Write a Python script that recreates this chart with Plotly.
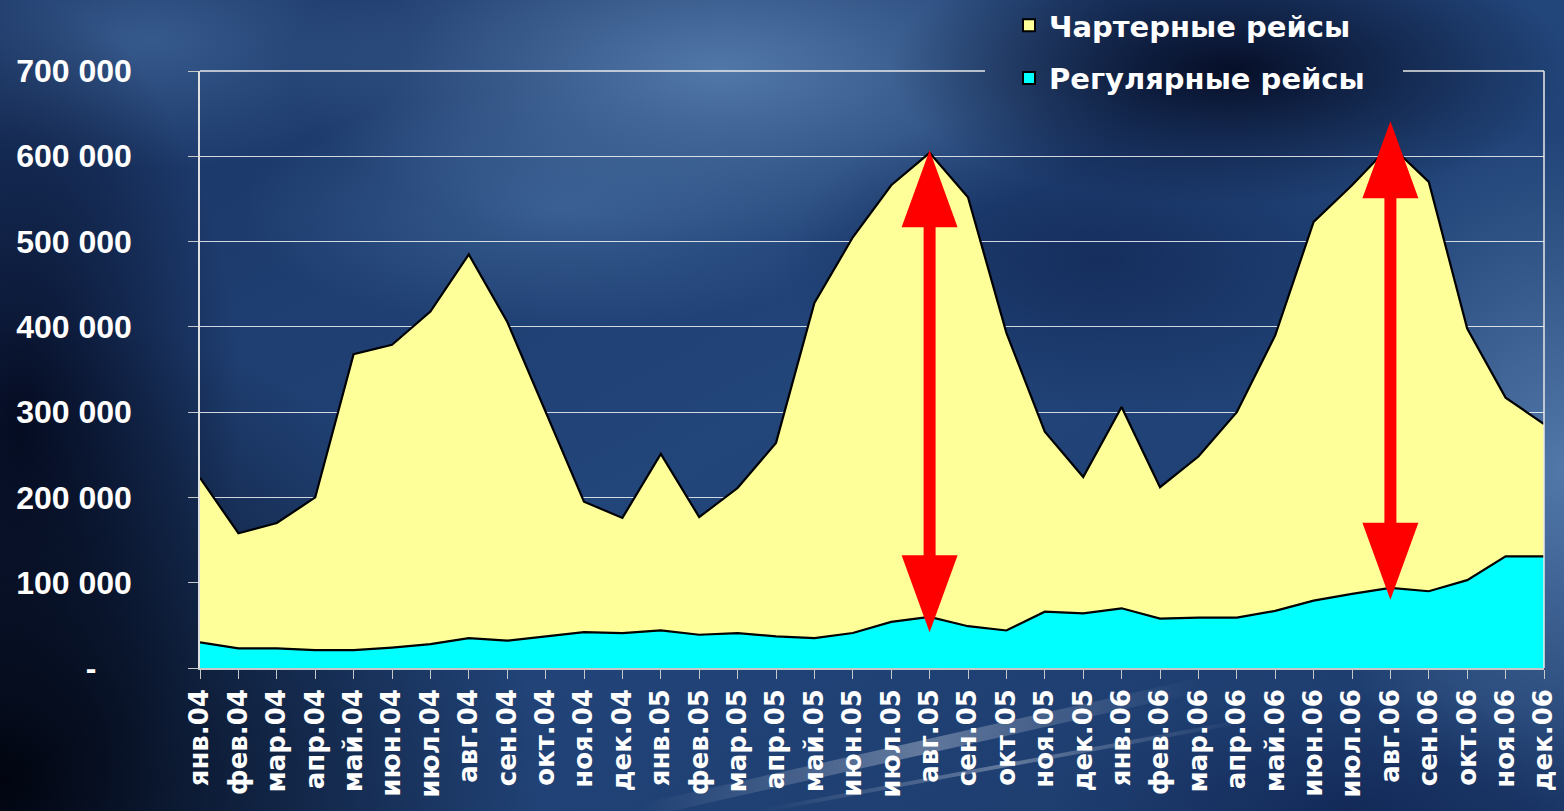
import base64
import plotly.graph_objects as go

# ---------------- data ----------------
months = ["янв.04", "фев.04", "мар.04", "апр.04", "май.04", "июн.04", "июл.04", "авг.04",
          "сен.04", "окт.04", "ноя.04", "дек.04", "янв.05", "фев.05", "мар.05", "апр.05",
          "май.05", "июн.05", "июл.05", "авг.05", "сен.05", "окт.05", "ноя.05", "дек.05",
          "янв.06", "фев.06", "мар.06", "апр.06", "май.06", "июн.06", "июл.06", "авг.06",
          "сен.06", "окт.06", "ноя.06", "дек.06"]

regular = [30000, 23000, 23000, 21000, 21000, 24000, 28000, 35000, 32000, 37000, 42000, 41000,
           44000, 39000, 41000, 37000, 35000, 41000, 54000, 60000, 49000, 44000, 66000, 64000,
           70000, 58000, 59000, 59000, 67000, 79000, 87000, 94000, 90000, 103000, 131000, 131000]

charter = [193000, 135000, 147000, 179000, 347000, 355000, 390000, 450000, 374000, 263000, 153000, 135000,
           207000, 138000, 170000, 227000, 393000, 464000, 512000, 544000, 503000, 349000, 211000, 160000,
           236000, 154000, 189000, 241000, 323000, 444000, 479000, 519000, 480000, 295000, 186000, 155000]

series_names = ["Чартерные рейсы", "Регулярные рейсы"]

y_tickvals = [0, 100000, 200000, 300000, 400000, 500000, 600000, 700000]
y_ticktext = ["-\u00a0\u00a0\u00a0\u00a0", "100 000", "200 000", "300 000", "400 000",
              "500 000", "600 000", "700 000"]

arrow_months = ["авг.05", "авг.06"]
arrow_tops = [607000, 641000]
arrow_bottoms = [42000, 80000]

# ---------------- styling ----------------
W, H = 1564, 811
ML, MR, MT, MB = 200, 20, 71, 143
PW, PH = W - ML - MR, H - MT - MB
YMAX = 700000

CHARTER_COLOR = "#FFFF99"
REGULAR_COLOR = "#00FFFF"
ARROW_COLOR = "#FF0000"


def bg_svg(viewbox):
    return f'''<svg xmlns="http://www.w3.org/2000/svg" width="1564" height="811" viewBox="{viewbox}" preserveAspectRatio="none">
<defs>
<linearGradient id="base" x1="0" y1="0" x2="1" y2="1">
<stop offset="0" stop-color="#1a3464"/><stop offset="0.5" stop-color="#22457a"/><stop offset="1" stop-color="#1d3b6c"/>
</linearGradient>
<radialGradient id="dk"><stop offset="0" stop-color="#01040f" stop-opacity="1"/><stop offset="1" stop-color="#01040f" stop-opacity="0"/></radialGradient>
<radialGradient id="dk2"><stop offset="0" stop-color="#050c24" stop-opacity="0.95"/><stop offset="1" stop-color="#050c24" stop-opacity="0"/></radialGradient>
<radialGradient id="dk3"><stop offset="0" stop-color="#0c1e4a" stop-opacity="0.6"/><stop offset="1" stop-color="#0c1e4a" stop-opacity="0"/></radialGradient>
<radialGradient id="lt"><stop offset="0" stop-color="#5a82b2" stop-opacity="0.85"/><stop offset="1" stop-color="#5a82b2" stop-opacity="0"/></radialGradient>
<radialGradient id="lt2"><stop offset="0" stop-color="#456da0" stop-opacity="0.65"/><stop offset="1" stop-color="#456da0" stop-opacity="0"/></radialGradient>
<linearGradient id="streak" x1="0" y1="0" x2="1" y2="0">
<stop offset="0" stop-color="#ffffff" stop-opacity="0"/><stop offset="0.5" stop-color="#ffffff" stop-opacity="0.3"/><stop offset="1" stop-color="#ffffff" stop-opacity="0"/>
</linearGradient>
</defs>
<rect x="0" y="0" width="1564" height="811" fill="url(#base)"/>
<ellipse cx="150" cy="40" rx="260" ry="130" fill="url(#lt2)"/>
<ellipse cx="720" cy="70" rx="430" ry="180" fill="url(#lt)"/>
<ellipse cx="560" cy="210" rx="320" ry="120" fill="url(#lt2)"/>
<ellipse cx="1230" cy="70" rx="340" ry="135" fill="url(#dk2)"/>
<ellipse cx="1100" cy="260" rx="320" ry="160" fill="url(#dk3)"/>
<ellipse cx="1564" cy="470" rx="270" ry="340" fill="url(#lt)"/>
<ellipse cx="20" cy="420" rx="220" ry="420" fill="url(#dk2)"/>
<ellipse cx="0" cy="780" rx="540" ry="470" fill="url(#dk)"/>
<ellipse cx="1350" cy="811" rx="300" ry="120" fill="url(#dk3)"/>
<line x1="640" y1="811" x2="1200" y2="685" stroke="url(#streak)" stroke-width="14"/>
<line x1="760" y1="811" x2="1250" y2="720" stroke="url(#streak)" stroke-width="4"/>
</svg>'''


def data_uri(svg):
    return "data:image/svg+xml;base64," + base64.b64encode(svg.encode("utf-8")).decode("ascii")


def px_to_paper_x(px):
    return (px - ML) / PW


def px_to_paper_y(py):
    return (H - MB - py) / PH


fig = go.Figure()

# stacked areas (regular at bottom, charter on top)
fig.add_trace(go.Scatter(x=months, y=regular, name=series_names[1], stackgroup="one",
                         mode="lines", line=dict(color="black", width=2.2),
                         fillcolor=REGULAR_COLOR, showlegend=False, hoverinfo="skip"))
fig.add_trace(go.Scatter(x=months, y=charter, name=series_names[0], stackgroup="one",
                         mode="lines", line=dict(color="black", width=2.2),
                         fillcolor=CHARTER_COLOR, showlegend=False, hoverinfo="skip"))

# legend entries with square swatches
for name, col in zip(series_names, [CHARTER_COLOR, REGULAR_COLOR]):
    fig.add_trace(go.Scatter(x=[None], y=[None], mode="markers", name=name, legendgroup=name,
                             marker=dict(symbol="square", size=14, color=col,
                                         line=dict(color="black", width=2))))

# double-headed red arrows
unit_per_px = YMAX / PH
inset = 40 * unit_per_px
shapes = []
for m, top, bot in zip(arrow_months, arrow_tops, arrow_bottoms):
    xi = months.index(m)
    shapes.append(dict(type="line", xref="x", yref="y", x0=xi, x1=xi, y0=bot + inset, y1=top - inset,
                       line=dict(color=ARROW_COLOR, width=12), layer="above"))
    shapes.append(dict(type="path", xref="x", yref="y", xsizemode="pixel", ysizemode="pixel",
                       xanchor=xi, yanchor=top, path="M 0,0 L -28,-77 L 28,-77 Z",
                       fillcolor=ARROW_COLOR, line=dict(width=0), layer="above"))
    shapes.append(dict(type="path", xref="x", yref="y", xsizemode="pixel", ysizemode="pixel",
                       xanchor=xi, yanchor=bot, path="M 0,0 L -28,77 L 28,77 Z",
                       fillcolor=ARROW_COLOR, line=dict(width=0), layer="above"))

# top border of the plot area, interrupted behind the legend; right border
border = dict(color="#e8e8e8", width=1.5)
shapes.append(dict(type="line", xref="paper", yref="paper", x0=0, x1=px_to_paper_x(985),
                   y0=1, y1=1, line=border))
shapes.append(dict(type="line", xref="paper", yref="paper", x0=px_to_paper_x(1403), x1=1,
                   y0=1, y1=1, line=border))
shapes.append(dict(type="line", xref="paper", yref="paper", x0=1, x1=1, y0=0, y1=1, line=border))

images = [
    dict(source=data_uri(bg_svg("0 0 1564 811")), xref="paper", yref="paper",
         x=px_to_paper_x(0), y=px_to_paper_y(0), sizex=W / PW, sizey=H / PH,
         sizing="stretch", layer="below", xanchor="left", yanchor="top"),
]

fig.update_layout(
    width=W, height=H,
    autosize=False,
    margin=dict(l=ML, r=MR, t=MT, b=MB, pad=0, autoexpand=False),
    paper_bgcolor="#0d1b3a",
    plot_bgcolor="rgba(0,0,0,0)",
    images=images,
    shapes=shapes,
    showlegend=True,
    legend=dict(x=px_to_paper_x(1009), y=px_to_paper_y(0), xanchor="left", yanchor="top",
                bgcolor="rgba(0,0,0,0)", borderwidth=0,
                font=dict(family="DejaVu Sans", size=29, color="white", weight="bold"),
                traceorder="grouped", tracegroupgap=12, itemsizing="constant"),
    xaxis=dict(type="category", categoryorder="array", categoryarray=months, automargin=False,
               range=[0, len(months) - 1], showgrid=False, zeroline=False,
               showline=True, linecolor="#c8c8c8", linewidth=1.5,
               ticks="outside", ticklen=9, tickwidth=1, tickcolor="#c8c8c8",
               tickangle=-90, tickfont=dict(family="DejaVu Sans", size=26, color="white", weight="bold")),
    yaxis=dict(range=[0, YMAX], tickvals=y_tickvals, ticktext=y_ticktext, automargin=False,
               showgrid=True, gridcolor="rgba(255,255,255,0.8)", gridwidth=1,
               zeroline=False, showline=True, linecolor="#e0e0e0", linewidth=1.5,
               mirror=False, ticks="outside", ticklen=10, tickcolor="#c8c8c8",
               ticklabelstandoff=50,
               tickfont=dict(family="Liberation Sans", size=32, color="white", weight="bold")),
    hovermode=False,
)

fig.write_html("out.html", config={"displayModeBar": False},
               post_script="document.body.style.margin='0px';document.body.style.background='#0d1b3a';")
